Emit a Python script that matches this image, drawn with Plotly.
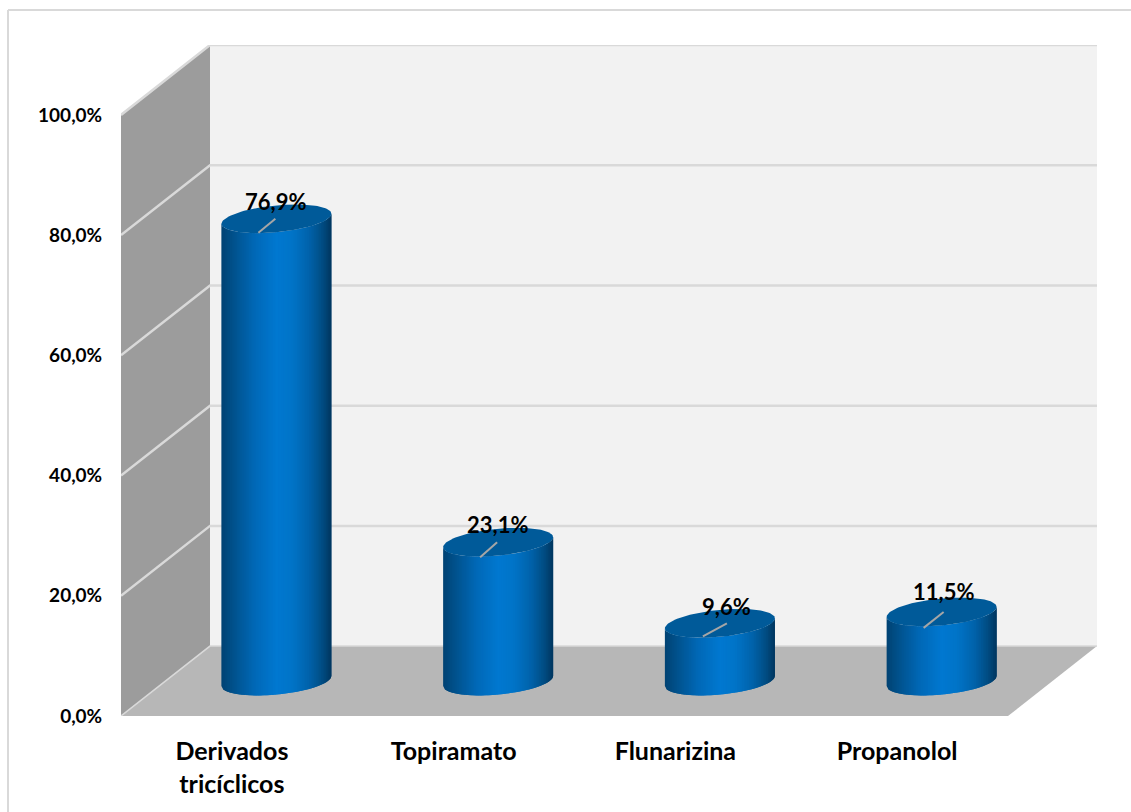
import numpy as np
import plotly.graph_objects as go

# Chart content
categories = ["Derivados<br>tricíclicos", "Topiramato", "Flunarizina", "Propanolol"]
percentages = [76.9, 23.1, 9.6, 11.5]
y_ticks = [0, 20, 40, 60, 80, 100]
y_tick_labels = ["0,0%", "20,0%", "40,0%", "60,0%", "80,0%", "100,0%"]


def pct(value):
    return f"{value:.1f}%".replace(".", ",")


# Pseudo-3D frame, expressed in axis units
WIDTH, HEIGHT = 1131, 812
M_L, M_R, M_T, M_B = 121, 34, 45, 96
PX_X = 221.75          # pixels per category
PX_Y = 6.02            # pixels per percentage point
DEPTH_X = 89 / PX_X
DEPTH_Y = 70 / PX_Y
N = len(categories)
X_MAX = N + DEPTH_X
Y_MAX = 100 + DEPTH_Y

# Cylinder geometry
RX = 55 / PX_X
RY = 13.5 / PX_Y
SKEW = 5 / PX_Y
STRIPS = 64
STOPS = [
    (0.00, (0, 66, 114)),
    (0.10, (0, 80, 138)),
    (0.30, (0, 104, 182)),
    (0.50, (0, 120, 208)),
    (0.64, (0, 116, 200)),
    (0.80, (0, 98, 170)),
    (0.92, (0, 76, 130)),
    (1.00, (0, 54, 94)),
]
LID = "#005a99"
GRID = "#d9d9d9"

# Label and leader-line placement relative to each cylinder's lid centre, in pixels
LABEL_SHIFT = [(-1, 17), (-1, 18), (7, 17), (2, 20)]
LEADER_LEN = [(-17, 14), (-17, 15), (-24, 13), (-20, 16)]


def shade(f):
    pos = [s[0] for s in STOPS]
    rgb = [np.interp(f, pos, [s[1][i] for s in STOPS]) for i in range(3)]
    return "rgb({:.0f},{:.0f},{:.0f})".format(*rgb)


def front_arc(u, y0):
    """Lower branch of the skewed ellipse at offset u (-1..1) around level y0."""
    return y0 + SKEW * u - RY * np.sqrt(np.clip(1 - u * u, 0, 1))


fig = go.Figure()


def polygon(xs, ys, color):
    fig.add_trace(go.Scatter(
        x=xs, y=ys, mode="lines", fill="toself", fillcolor=color,
        line=dict(color=color, width=0),
        hoverinfo="skip", showlegend=False,
    ))


# Walls and floor
polygon([0, DEPTH_X, DEPTH_X, 0, 0], [0, DEPTH_Y, Y_MAX, 100, 0], "#9c9c9c")
polygon([DEPTH_X, X_MAX, X_MAX, DEPTH_X, DEPTH_X],
        [DEPTH_Y, DEPTH_Y, Y_MAX, Y_MAX, DEPTH_Y], "#f2f2f2")
polygon([0, N, X_MAX, DEPTH_X, 0], [0, 0, DEPTH_Y, DEPTH_Y, 0], "#b7b7b7")

# Gridlines run up the side wall and along the back wall
for tick in y_ticks:
    fig.add_trace(go.Scatter(
        x=[0, DEPTH_X, X_MAX], y=[tick, tick + DEPTH_Y, tick + DEPTH_Y],
        mode="lines", line=dict(color=GRID, width=2.5 if tick else 1.5),
        hoverinfo="skip", showlegend=False,
    ))

# Cylinders: one slim vertical strip per gradient step, then the lid
edges = np.linspace(-1, 1, STRIPS + 1)
for i in range(STRIPS):
    xs, ys = [], []
    overlap = edges[min(i + 2, STRIPS)]
    us = np.linspace(edges[i], overlap, 5)
    for k, value in enumerate(percentages):
        cx = k + 0.5 + DEPTH_X / 2
        base = DEPTH_Y / 2
        xs += list(cx + RX * us) + list(cx + RX * us[::-1]) + [cx + RX * us[0], None]
        ys += list(front_arc(us, base)) + list(front_arc(us[::-1], base + value)) \
            + [front_arc(us[0], base), None]
    polygon(xs, ys, shade((i + 0.5) / STRIPS))

theta = np.linspace(0, 2 * np.pi, 121)
for k, value in enumerate(percentages):
    cx = k + 0.5 + DEPTH_X / 2
    cy = value + DEPTH_Y / 2
    polygon(cx + RX * np.cos(theta),
            cy + SKEW * np.cos(theta) + RY * np.sin(theta), LID)

# Leader lines and value labels
for k, value in enumerate(percentages):
    cx = k + 0.5 + DEPTH_X / 2
    cy = value + DEPTH_Y / 2
    shift_x, shift_y = LABEL_SHIFT[k]
    len_x, len_y = LEADER_LEN[k]
    top_x = cx + shift_x / PX_X
    fig.add_trace(go.Scatter(
        x=[top_x, top_x + len_x / PX_X], y=[cy, cy - len_y / PX_Y],
        mode="lines", line=dict(color="#a6a6a6", width=2),
        hoverinfo="skip", showlegend=False,
    ))
    fig.add_annotation(
        x=top_x, y=cy + shift_y / PX_Y, text=f"<b>{pct(value)}</b>",
        showarrow=False, font=dict(family="Lato", size=22, color="#000000"),
        xanchor="center", yanchor="middle",
    )

# Chart-area border: only its top and left edges fall inside the page
PAPER_W, PAPER_H = WIDTH - M_L - M_R, HEIGHT - M_T - M_B
border_left = (8 - M_L) / PAPER_W
border_right = (WIDTH - M_L) / PAPER_W
border_top = (HEIGHT - M_B - 10) / PAPER_H
border_bottom = -M_B / PAPER_H
fig.add_shape(type="line", xref="paper", yref="paper", layer="below",
              x0=border_left, x1=border_right, y0=border_top, y1=border_top,
              line=dict(color="#d9d9d9", width=2))
fig.add_shape(type="line", xref="paper", yref="paper", layer="below",
              x0=border_left, x1=border_left, y0=border_top, y1=border_bottom,
              line=dict(color="#d9d9d9", width=2))

fig.update_layout(
    width=WIDTH, height=HEIGHT,
    margin=dict(l=M_L, r=M_R, t=M_T, b=M_B, pad=0),
    paper_bgcolor="#ffffff", plot_bgcolor="rgba(0,0,0,0)",
    showlegend=False,
    xaxis=dict(
        range=[0, X_MAX], showgrid=False, zeroline=False, showline=False,
        tickmode="array", tickvals=[k + 0.5 for k in range(N)],
        ticktext=[f"<b>{c.replace('<br>', '</b><br><b>')}</b>" for c in categories],
        ticks="outside", ticklen=13, tickcolor="rgba(0,0,0,0)",
        tickfont=dict(family="Lato", size=25, color="#000000"),
    ),
    yaxis=dict(
        range=[0, Y_MAX], showgrid=False, zeroline=False, showline=False,
        tickmode="array", tickvals=y_ticks,
        ticktext=[f"<b>{t}</b>" for t in y_tick_labels],
        ticks="outside", ticklen=14, tickcolor="rgba(0,0,0,0)",
        tickfont=dict(family="Lato", size=19, color="#000000"),
    ),
)

fig.write_html("out.html", config=dict(displayModeBar=False))
